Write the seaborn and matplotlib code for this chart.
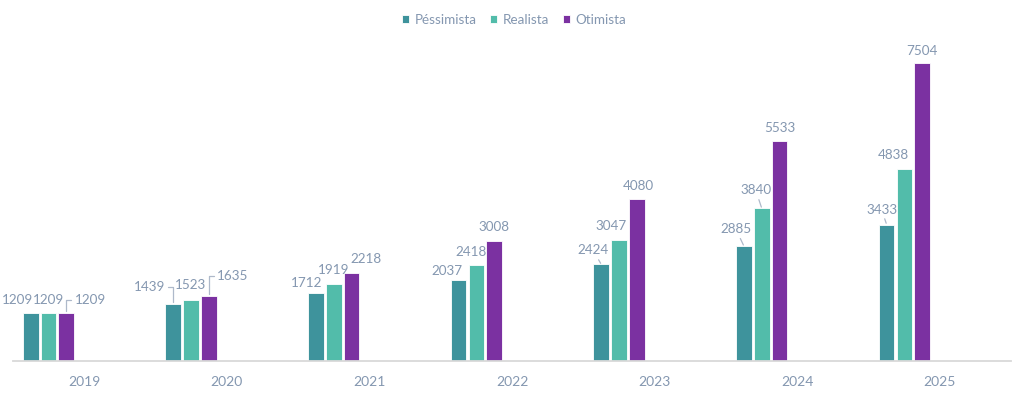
import numpy as np
import pandas as pd
import matplotlib
matplotlib.use("Agg")
import matplotlib.pyplot as plt
import seaborn as sns

# ---- data ----
years = ["2019", "2020", "2021", "2022", "2023", "2024", "2025"]
scenarios = ["Péssimista", "Realista", "Otimista"]
pessimista = [1209, 1439, 1712, 2037, 2424, 2885, 3433]
realista = [1209, 1523, 1919, 2418, 3047, 3840, 4838]
otimista = [1209, 1635, 2218, 3008, 4080, 5533, 7504]

# ---- style ----
colors = ["#3E939C", "#52BCAA", "#7B31A1"]
text_color = "#8497B0"
leader_color = "#AEB9CA"

# label offsets in pixels (dx, dy of label centre from bar top) and leader type
label_style = [
    [(-13, 13, None), (-24, 17, "elbow"), (-9, 10, None), (-12, 9, None), (-8, 14, "line"), (-8, 17, "line"), (-5, 15, "line")],
    [(0, 13, None), (-1, 15, None), (0, 14, None), (-5, 13, None), (-8, 14, None), (-6, 18, "line"), (-11, 14, None)],
    [(24, 13, "elbow"), (24, 20, "elbow"), (14, 14, None), (0, 14, None), (1, 13, None), (0, 13, None), (0, 12, None)],
]

df = pd.DataFrame({
    "Ano": years * 3,
    "Cenário": np.repeat(scenarios, len(years)),
    "Valor": pessimista + realista + otimista,
})

sns.set_theme(style="white")
plt.rcParams["font.family"] = ["Lato", "DejaVu Sans"]

fig = plt.figure(figsize=(10.24, 3.96), dpi=100)
ax = fig.add_axes([12.7 / 1024, 35.5 / 396, 998.6 / 1024, 320.8 / 396])

sns.barplot(data=df, x="Ano", y="Valor", hue="Cenário", order=years,
            hue_order=scenarios, palette=colors, width=0.375, gap=0.12,
            errorbar=None, edgecolor="white", linewidth=0.6, saturation=1,
            ax=ax)

ax.set_ylim(0, 8100)
ax.set_xlim(-0.251, 6.749)
ax.set_xticks(np.arange(len(years)) + 0.249, labels=years)
ax.set_yticks([])
ax.set_xlabel("")
ax.set_ylabel("")
for s in ["left", "top", "right"]:
    ax.spines[s].set_visible(False)
ax.spines["bottom"].set_color("#D9D9D9")
ax.spines["bottom"].set_linewidth(1.3)
ax.tick_params(axis="x", length=0, pad=11, labelcolor=text_color, labelsize=10)

# value labels
for k, cont in enumerate(ax.containers):
    for i, bar in enumerate(cont):
        x = bar.get_x() + bar.get_width() / 2
        h = bar.get_height()
        dx, dy, leader = label_style[k][i]
        kw = dict(xy=(x, h), xytext=(dx, dy), textcoords="offset pixels",
                  ha="center", va="center", color=text_color, fontsize=9.7)
        if leader == "elbow":
            kw["arrowprops"] = dict(arrowstyle="-", color=leader_color, lw=0.9,
                                    connectionstyle="angle,angleA=0,angleB=90,rad=0",
                                    shrinkA=0, shrinkB=1)
        elif leader == "line":
            kw["arrowprops"] = dict(arrowstyle="-", color=leader_color, lw=0.9,
                                    shrinkA=0, shrinkB=1)
        ax.annotate(f"{int(round(h))}", **kw)

# legend
handles, labels = ax.get_legend_handles_labels()
if ax.get_legend() is not None:
    ax.get_legend().remove()
leg = fig.legend(handles, labels, loc="center", bbox_to_anchor=(0.502, 1 - 20 / 396),
                 ncol=3, frameon=False, fontsize=9.7, handlelength=0.55,
                 handleheight=0.55, handletextpad=0.4, columnspacing=1.0)
for t in leg.get_texts():
    t.set_color(text_color)

fig.savefig("out.png", dpi=100)
